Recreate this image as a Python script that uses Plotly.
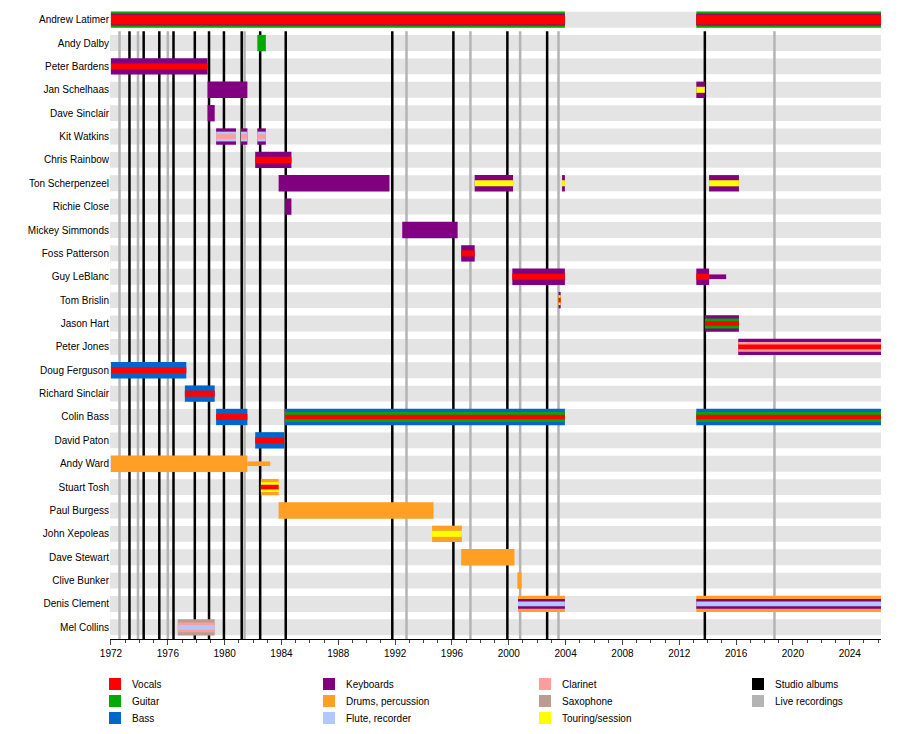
import plotly.graph_objects as go

# colours per role
ROLE_COL = {
    'Vocals': '#ff0000', 'Guitar': '#00aa00', 'Bass': '#0066cc',
    'Keyboards': '#800080', 'Drums, percussion': '#ffa024',
    'Flute, recorder': '#b0c8ff', 'Clarinet': '#ff9c9c',
    'Saxophone': '#bc9c90', 'Touring/session': '#ffff00',
    'Studio albums': '#000000', 'Live recordings': '#b4b4b4',
}
V, G, B, K, D, F, C, S, T = ('Vocals', 'Guitar', 'Bass', 'Keyboards',
                             'Drums, percussion', 'Flute, recorder',
                             'Clarinet', 'Saxophone', 'Touring/session')
END = 2026.2

members = [
    'Andrew Latimer', 'Andy Dalby', 'Peter Bardens', 'Jan Schelhaas',
    'Dave Sinclair', 'Kit Watkins', 'Chris Rainbow', 'Ton Scherpenzeel',
    'Richie Close', 'Mickey Simmonds', 'Foss Patterson', 'Guy LeBlanc',
    'Tom Brislin', 'Jason Hart', 'Peter Jones', 'Doug Ferguson',
    'Richard Sinclair', 'Colin Bass', 'David Paton', 'Andy Ward',
    'Stuart Tosh', 'Paul Burgess', 'John Xepoleas', 'Dave Stewart',
    'Clive Bunker', 'Denis Clement', 'Mel Collins',
]

# (member, start, end, roles outer -> inner, thin)
periods = [
    ('Andrew Latimer', 1972.0, 2003.95, [G, K, V], False),
    ('Andrew Latimer', 2013.2, END, [G, K, V], False),
    ('Andy Dalby', 1982.3, 1982.9, [G], False),
    ('Peter Bardens', 1972.0, 1978.8, [K, V], False),
    ('Jan Schelhaas', 1978.8, 1981.6, [K], False),
    ('Jan Schelhaas', 2013.2, 2013.8, [K, T], False),
    ('Dave Sinclair', 1978.8, 1979.3, [K], False),
    ('Kit Watkins', 1979.4, 1980.8, [K, F, C], False),
    ('Kit Watkins', 1981.15, 1981.6, [K, F, C], False),
    ('Kit Watkins', 1982.3, 1982.9, [K, F, C], False),
    ('Chris Rainbow', 1982.15, 1984.7, [K, V], False),
    ('Ton Scherpenzeel', 1983.8, 1991.6, [K], False),
    ('Ton Scherpenzeel', 1997.6, 2000.3, [K, T], False),
    ('Ton Scherpenzeel', 2003.75, 2003.95, [K, T], False),
    ('Ton Scherpenzeel', 2014.1, 2016.2, [K, T], False),
    ('Richie Close', 1984.25, 1984.7, [K], False),
    ('Mickey Simmonds', 1992.5, 1996.4, [K], False),
    ('Foss Patterson', 1996.65, 1997.6, [K, V], False),
    ('Guy LeBlanc', 2000.25, 2003.95, [K, V], False),
    ('Guy LeBlanc', 2013.2, 2014.1, [K, V], False),
    ('Guy LeBlanc', 2014.1, 2015.3, [K], True),
    ('Tom Brislin', 2003.5, 2003.65, [K, T, V], False),
    ('Jason Hart', 2013.8, 2016.2, [K, G, V], False),
    ('Peter Jones', 2016.15, END, [K, C, V], False),
    ('Doug Ferguson', 1972.0, 1977.3, [B, V], False),
    ('Richard Sinclair', 1977.2, 1979.3, [B, V], False),
    ('Colin Bass', 1979.4, 1981.6, [B, V], False),
    ('Colin Bass', 1984.25, 2003.95, [B, G, V], False),
    ('Colin Bass', 2013.2, END, [B, G, V], False),
    ('David Paton', 1982.15, 1984.2, [B, V], False),
    ('Andy Ward', 1972.0, 1981.6, [D], False),
    ('Andy Ward', 1981.6, 1983.2, [D], True),
    ('Stuart Tosh', 1982.55, 1983.8, [D, T, V], False),
    ('Paul Burgess', 1983.8, 1994.7, [D], False),
    ('John Xepoleas', 1994.6, 1996.7, [D, T], False),
    ('Dave Stewart', 1996.65, 2000.4, [D], False),
    ('Clive Bunker', 2000.6, 2000.9, [D], False),
    ('Denis Clement', 2000.65, 2003.95, [D, K, F], False),
    ('Denis Clement', 2013.2, END, [D, K, F], False),
    ('Mel Collins', 1976.7, 1979.3, [S, C, F], False),
]

studio_albums = [1973.3, 1974.3, 1975.4, 1976.4, 1977.9, 1978.9, 1979.95,
                 1981.2, 1982.5, 1984.3, 1991.8, 1996.1, 1999.9, 2002.7,
                 2013.8]
live_recordings = [1972.6, 1973.9, 1976.0, 1981.4, 1992.8, 1997.3, 2000.8,
                   2003.5, 2018.7]

# legend columns (column-major)
legend_cols = [[V, G, B], [K, D, F], [C, S, T],
               ['Studio albums', 'Live recordings']]

X0 = 1971.93
HEIGHTS = {1: [0.7], 2: [0.7, 0.26], 3: [0.7, 0.42, 0.2]}
W, H = 900, 734
ML, MR, MT, MB = 102, 27, 0, 103

shapes = []
# row backgrounds
for i in range(len(members)):
    shapes.append(dict(type='rect', xref='x', yref='y', x0=X0, x1=END,
                       y0=i - 0.34, y1=i + 0.34, fillcolor='#e4e4e4',
                       line_width=0, layer='below'))
# event lines
for xv in live_recordings:
    shapes.append(dict(type='line', xref='x', yref='y', x0=xv, x1=xv,
                       y0=0.5, y1=len(members) - 0.5,
                       line=dict(color=ROLE_COL['Live recordings'], width=2.5)))
for xv in studio_albums:
    shapes.append(dict(type='line', xref='x', yref='y', x0=xv, x1=xv,
                       y0=0.5, y1=len(members) - 0.5,
                       line=dict(color='black', width=2.5)))
# membership bars
for name, s, e, roles, thin in periods:
    i = members.index(name)
    hs = [0.2] if thin else HEIGHTS[len(roles)]
    if name == 'Andrew Latimer':
        hs = [0.7, 0.5, 0.42]
    for r, h in zip(roles, hs):
        shapes.append(dict(type='rect', xref='x', yref='y', x0=s, x1=e,
                           y0=i - h / 2, y1=i + h / 2,
                           fillcolor=ROLE_COL[r], line_width=0))

# hand-made legend in paper coordinates (pixel positions in figure)
annotations = []
pw, ph = W - ML - MR, H - MT - MB
col_x = [101, 315, 531, 744]
row_y = [676, 693, 710]
for cx, items in zip(col_x, legend_cols):
    for ry, name in zip(row_y, items):
        shapes.append(dict(type='rect', xref='paper', yref='paper',
                           x0=(cx - ML) / pw, x1=(cx + 12 - ML) / pw,
                           y0=(H - MB - (ry - 6)) / ph,
                           y1=(H - MB - (ry + 6)) / ph,
                           fillcolor=ROLE_COL[name], line_width=0))
        annotations.append(dict(xref='paper', yref='paper',
                                x=(cx + 21 - ML) / pw,
                                y=(H - MB - ry) / ph, text=name,
                                showarrow=False, xanchor='left',
                                yanchor='middle', font=dict(size=10)))

fig = go.Figure()
fig.add_trace(go.Scatter(x=[X0], y=[0], mode='markers',
                         marker=dict(opacity=0), hoverinfo='skip'))

fig.update_layout(
    width=W, height=H,
    margin=dict(l=ML, r=MR, t=MT, b=MB),
    plot_bgcolor='white', paper_bgcolor='white',
    font=dict(family='Liberation Sans, Arial', size=10, color='black'),
    shapes=shapes, annotations=annotations,
    showlegend=False,
    xaxis=dict(range=[X0, END], tickmode='array',
               tickvals=list(range(1972, 2026, 4)),
               ticks='outside', ticklen=5, showgrid=False, zeroline=False,
               showline=True, linecolor='black', automargin=False,
               minor=dict(dtick=1, ticks='outside', ticklen=3,
                          tick0=1972)),
    yaxis=dict(range=[len(members) - 0.5, -0.5], tickmode='array',
               tickvals=list(range(len(members))), ticktext=members,
               showgrid=False, zeroline=False, ticks='', automargin=False),
)

fig.write_html('out.html')
